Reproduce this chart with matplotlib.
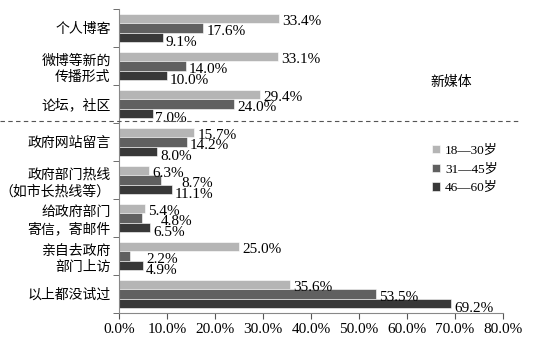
import numpy as np
import matplotlib
matplotlib.use("Agg")
import matplotlib.pyplot as plt

plt.rcParams['font.family'] = ['Liberation Serif', 'Noto Sans CJK SC']

# 数据
categories = ['个人博客', '微博等新的\n传播形式', '论坛，社区', '政府网站留言',
              '政府部门热线\n（如市长热线等）', '给政府部门\n寄信，寄邮件',
              '亲自去政府\n部门上访', '以上都没试过']
age_18_30 = [33.4, 33.1, 29.4, 15.7, 6.3, 5.4, 25.0, 35.6]
age_31_45 = [17.6, 14.0, 24.0, 14.2, 8.7, 4.8, 2.2, 53.5]
age_46_60 = [9.1, 10.0, 7.0, 8.0, 11.1, 6.5, 4.9, 69.2]
series_names = ['18—30岁', '31—45岁', '46—60岁']
colors = ['#b5b5b5', '#606060', '#383838']

# 标签避让（series, category）-> 额外右移量
label_shift = {(1, 4): 3.6, (1, 5): 3.3, (1, 6): 3.0}

fig = plt.figure(figsize=(5.37, 3.43), dpi=100)
ax = fig.add_axes([119 / 537, 30 / 343, 384 / 537, 304 / 343])

y = np.arange(len(categories))
h = 0.24
for i, (vals, name, c) in enumerate(zip([age_18_30, age_31_45, age_46_60], series_names, colors)):
    pos = y + (i - 1) * h
    ax.barh(pos, vals, height=h, color=c, label=name, edgecolor='white', linewidth=0.4)
    for j, (p, v) in enumerate(zip(pos, vals)):
        dx = 0.6 + label_shift.get((i, j), 0)
        ax.text(v + dx, p + 0.06 + 0.04 * i, f'{v:.1f}%', va='center', ha='left', fontsize=11)

ax.set_ylim(len(categories) - 0.5, -0.5)
ax.set_xlim(0, 80)
ax.set_xticks(np.arange(0, 81, 10))
ax.set_xticklabels([f'{t:.1f}%' for t in np.arange(0, 81, 10)], fontsize=11)
ax.set_yticks(y)
ax.set_yticklabels(categories, fontsize=10, linespacing=1.3)
ax.set_yticks(np.arange(-0.5, len(categories)), minor=True)
ax.tick_params(axis='y', which='major', length=0, pad=6)
ax.tick_params(axis='y', which='minor', length=4, color='#555555')
ax.tick_params(axis='x', length=4, color='#555555')

for s in ['top', 'right']:
    ax.spines[s].set_visible(False)
ax.spines['left'].set_color('#888888')
ax.spines['bottom'].set_color('#888888')

# 新媒体分隔线
fig.add_artist(plt.Line2D([0.0, 0.97], [1 - 121 / 343, 1 - 121 / 343],
                          transform=fig.transFigure, color='#555555',
                          linestyle=(0, (4, 3)), linewidth=0.8))
fig.text(451 / 537, 1 - 82 / 343, '新媒体', ha='center', va='center', fontsize=10)

ax.legend(loc='upper left', bbox_to_anchor=(420 / 537, 1 - 133 / 343),
          bbox_transform=fig.transFigure, frameon=False, fontsize=9.5,
          handlelength=0.6, handleheight=0.6, handletextpad=0.4, labelspacing=0.5)

fig.savefig('out.png', dpi=100)
